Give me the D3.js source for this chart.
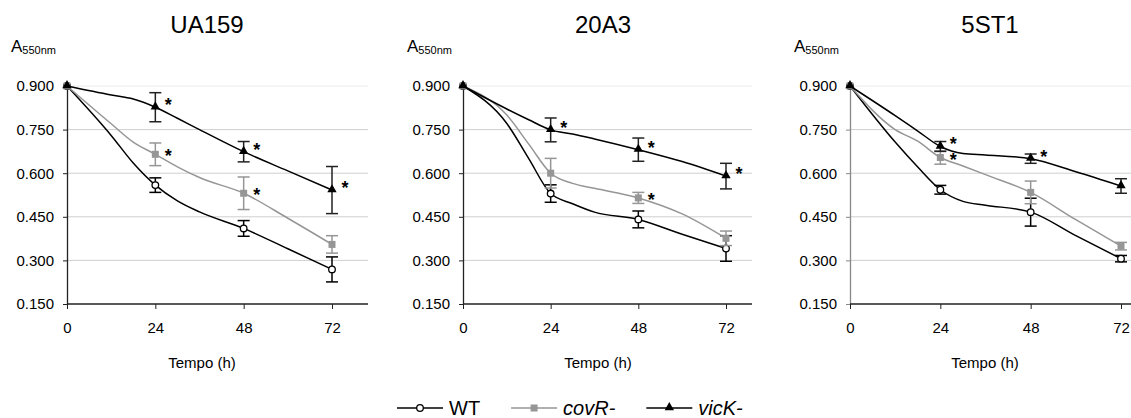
<!DOCTYPE html>
<html>
<head>
<meta charset="utf-8">
<script src="https://cdn.jsdelivr.net/npm/d3@7"></script>
<style>
  body { margin: 0; background: #fff; }
  svg { font-family: "Liberation Sans", Arial, sans-serif; display: block; }
</style>
</head>
<body>
<div id="chart"></div>
<script>
// Dados (leitura do gráfico)
var strains = ["UA159", "20A3", "5ST1"];
var times = [0, 12, 18, 24, 30, 36, 48, 60, 72];
var markTimes = [0, 24, 48, 72];
var errTimes = [24, 48, 72];
var xTicks = [0, 24, 48, 72];
var yTicks = [0.15, 0.30, 0.45, 0.60, 0.75, 0.90];

// um array por estirpe (UA159, 20A3, 5ST1), valores nos "times"
var wtValues = [
  [0.900, 0.730, 0.635, 0.559, 0.505, 0.467, 0.410, 0.340, 0.269],
  [0.900, 0.771, 0.650, 0.530, 0.495, 0.466, 0.441, 0.390, 0.341],
  [0.900, 0.707, 0.621, 0.543, 0.503, 0.490, 0.466, 0.385, 0.306]
];
var covRValues = [
  [0.900, 0.770, 0.707, 0.665, 0.622, 0.585, 0.531, 0.445, 0.355],
  [0.900, 0.800, 0.700, 0.600, 0.565, 0.548, 0.515, 0.460, 0.376],
  [0.900, 0.750, 0.710, 0.654, 0.625, 0.595, 0.534, 0.440, 0.349]
];
var vicKValues = [
  [0.900, 0.869, 0.855, 0.827, 0.789, 0.750, 0.674, 0.608, 0.542],
  [0.900, 0.821, 0.784, 0.749, 0.735, 0.718, 0.681, 0.640, 0.590],
  [0.900, 0.798, 0.745, 0.692, 0.668, 0.663, 0.650, 0.605, 0.556]
];
// desvio (+/-) em 24, 48, 72 h
var wtErr   = [[0.025, 0.027, 0.043], [0.030, 0.029, 0.044], [0.015, 0.048, 0.011]];
var covRErr = [[0.039, 0.056, 0.030], [0.051, 0.019, 0.025], [0.023, 0.039, 0.013]];
var vicKErr = [[0.050, 0.035, 0.081], [0.041, 0.040, 0.044], [0.017, 0.016, 0.025]];
// asterisco (diferença significativa) em 24, 48, 72 h
var covRStars = [[1, 1, 0], [0, 1, 0], [1, 0, 0]];
var vicKStars = [[1, 1, 1], [1, 1, 1], [1, 1, 0]];

var legendLabels = ["WT", "covR-", "vicK-"];

// Layout
var width = 1131, height = 418;
var panelOff = [0, 396, 783];
var xRange = [[67, 332], [463, 726], [850, 1121]];
var gridRight = [368, 752, 1131];
var yTop = 86, yBottom = 304;
var gray = "#969696";

var series = [
  {name: "WT", values: wtValues, err: wtErr, stars: null, color: "#000", errColor: "#000", marker: "circle", starDy: 0},
  {name: "covR-", values: covRValues, err: covRErr, stars: covRStars, color: gray, errColor: gray, marker: "square", starDy: 8},
  {name: "vicK-", values: vicKValues, err: vicKErr, stars: vicKStars, color: "#000", errColor: "#222", marker: "triangle", starDy: 4}
];

var svg = d3.select("#chart").append("svg")
  .attr("width", width)
  .attr("height", height);

function drawMarker(g, type, x, y, color) {
  if (type == "circle") {
    g.append("circle").attr("cx", x).attr("cy", y).attr("r", 3.3)
      .attr("fill", "#fff").attr("stroke", "#000").attr("stroke-width", 1.3);
  } else if (type == "square") {
    g.append("rect").attr("x", x - 3.5).attr("y", y - 3.5).attr("width", 7).attr("height", 7)
      .attr("fill", color);
  } else {
    g.append("path").attr("d", d3.symbol().type(d3.symbolTriangle).size(38)())
      .attr("transform", "translate(" + x + "," + (y - 0.5) + ")")
      .attr("fill", color);
  }
}

strains.forEach(function(strain, i) {
  var off = panelOff[i];
  var g = svg.append("g");

  var x = d3.scaleLinear().domain([0, 72]).range(xRange[i]);
  var y = d3.scaleLinear().domain([0.15, 0.9]).range([yBottom, yTop]);

  // titulo
  g.append("text")
    .attr("x", off + 207).attr("y", 33)
    .attr("text-anchor", "middle")
    .attr("font-size", 24)
    .text(strain);

  // A550nm
  var lab = g.append("text").attr("x", off + 11).attr("y", 52).attr("font-size", 17);
  lab.append("tspan").text("A");
  lab.append("tspan").attr("font-size", 11).attr("dy", 1.5).text("550nm");

  // grelha
  g.append("g").selectAll("line")
    .data(yTicks.filter(function(d) { return d > 0.15; }))
    .enter().append("line")
    .attr("x1", xRange[i][0]).attr("x2", gridRight[i])
    .attr("y1", function(d) { return y(d); }).attr("y2", function(d) { return y(d); })
    .attr("stroke", function(d) { return d == 0.9 ? "#ececec" : "#cfcfcf"; })
    .attr("stroke-width", 1);

  // eixo Y
  var ejeY = d3.axisLeft(y).tickValues(yTicks).tickFormat(d3.format(".3f"))
    .tickSize(4).tickSizeOuter(0).tickPadding(9);
  var gy = g.append("g").attr("transform", "translate(" + xRange[i][0] + ",0)").call(ejeY);
  gy.selectAll("text").attr("font-size", 15).attr("fill", "#000")
    .attr("font-family", "Liberation Sans, Arial, sans-serif");
  var axColor = i == 2 ? "#888" : "#222";
  gy.select(".domain").attr("stroke", axColor).attr("stroke-width", 1.3);
  gy.selectAll(".tick line").attr("stroke", axColor);

  // eixo X
  var ejeX = d3.axisBottom(x).tickValues(xTicks).tickFormat(d3.format("d"))
    .tickSize(5).tickPadding(13).tickSizeOuter(0);
  var gx = g.append("g").attr("transform", "translate(0," + yBottom + ")").call(ejeX);
  gx.select(".domain").remove();
  gx.append("line").attr("x1", xRange[i][0]).attr("x2", gridRight[i])
    .attr("stroke", "#222").attr("stroke-width", 1.3);
  gx.selectAll(".tick line").attr("stroke", "#222");
  gx.selectAll("text").attr("font-size", 15).attr("fill", "#000")
    .attr("font-family", "Liberation Sans, Arial, sans-serif");

  g.append("text")
    .attr("x", off + 202).attr("y", 368)
    .attr("text-anchor", "middle")
    .attr("font-size", 15)
    .text("Tempo (h)");

  // series
  series.forEach(function(s) {
    var vals = s.values[i];
    var pts = times.map(function(t, k) { return {t: t, v: vals[k]}; });
    var linea = d3.line()
      .x(function(d) { return x(d.t); })
      .y(function(d) { return y(d.v); })
      .curve(d3.curveMonotoneX);

    g.append("path")
      .attr("d", linea(pts))
      .attr("fill", "none")
      .attr("stroke", s.color)
      .attr("stroke-width", 1.5);

    // barras de erro
    errTimes.forEach(function(t, k) {
      var v = vals[times.indexOf(t)];
      var e = s.err[i][k];
      var cx = x(t);
      var eb = g.append("g").attr("stroke", s.errColor).attr("stroke-width", 1.5);
      eb.append("line").attr("x1", cx).attr("x2", cx).attr("y1", y(v + e)).attr("y2", y(v - e));
      eb.append("line").attr("x1", cx - 6).attr("x2", cx + 6).attr("y1", y(v + e)).attr("y2", y(v + e));
      eb.append("line").attr("x1", cx - 6).attr("x2", cx + 6).attr("y1", y(v - e)).attr("y2", y(v - e));
    });

    markTimes.forEach(function(t) {
      drawMarker(g, s.marker, x(t), y(vals[times.indexOf(t)]), s.color);
    });

    if (s.stars) {
      errTimes.forEach(function(t, k) {
        if (!s.stars[i][k]) return;
        var v = vals[times.indexOf(t)];
        g.append("text")
          .attr("x", x(t) + 13).attr("y", y(v) + s.starDy)
          .attr("text-anchor", "middle")
          .attr("font-size", 18).attr("font-weight", "bold")
          .text("*");
      });
    }
  });
});

// Legenda
var leg = svg.append("g");
var lx = 397, ly = 408;
series.forEach(function(s, k) {
  leg.append("line").attr("x1", lx).attr("x2", lx + 46).attr("y1", ly).attr("y2", ly)
    .attr("stroke", s.color).attr("stroke-width", 1.5);
  drawMarker(leg, s.marker, lx + 23, ly, s.color);
  var t = leg.append("text")
    .attr("x", lx + 52).attr("y", ly + 7)
    .attr("font-size", 20)
    .attr("font-style", k == 0 ? "normal" : "italic")
    .text(legendLabels[k]);
  lx = lx + 52 + t.node().getComputedTextLength() + 31;
});
</script>
</body>
</html>
